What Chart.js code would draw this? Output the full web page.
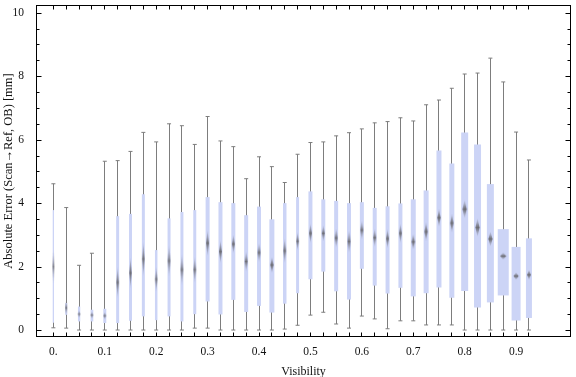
<!DOCTYPE html>
<html><head><meta charset="utf-8">
<script src="https://cdn.jsdelivr.net/npm/chart.js@4.4.0/dist/chart.umd.min.js"></script>
<style>html,body{margin:0;padding:0;background:#fff;overflow:hidden}</style>
</head><body>
<canvas id="c" width="576" height="377"></canvas>
<script>
// ---- data ----
const visibility = [0, 0.025, 0.05, 0.075, 0.1, 0.125, 0.15, 0.175, 0.2, 0.225, 0.25, 0.275, 0.3, 0.325, 0.35, 0.375, 0.4, 0.425, 0.45, 0.475, 0.5, 0.525, 0.55, 0.575, 0.6, 0.625, 0.65, 0.675, 0.7, 0.725, 0.75, 0.775, 0.8, 0.825, 0.85, 0.875, 0.9, 0.925];
const whiskerMin = [0.07, 0.06, 0.0, 0.0, 0.0, 0.0, 0.0, 0.0, 0.0, 0.0, 0.0, 0.06, 0.06, 0.0, 0.0, 0.0, 0.0, 0.0, 0.03, 0.15, 0.47, 0.56, 0.19, 0.06, 0.44, 0.35, 0.04, 0.29, 0.29, 0.16, 0.16, 0.16, 0.0, 0.0, 0.0, 0.0, 0.0, 0.0];
const quartile1  = [0.23, 0.48, 0.27, 0.27, 0.22, 0.22, 0.29, 0.43, 0.31, 0.43, 0.27, 0.5, 0.9, 0.49, 0.95, 0.57, 0.76, 0.55, 0.83, 1.16, 1.6, 1.84, 1.22, 0.96, 1.93, 1.4, 1.15, 1.33, 1.06, 1.16, 1.34, 1.02, 1.23, 0.71, 0.87, 1.09, 0.3, 0.38];
const medianVal  = [2.0, 0.7, 0.5, 0.47, 0.45, 1.5, 1.8, 2.24, 1.6, 2.18, 1.9, 1.9, 2.74, 2.47, 2.71, 2.16, 2.44, 2.05, 2.5, 2.8, 3.05, 3.05, 2.9, 2.79, 3.15, 2.91, 2.88, 3.05, 2.78, 3.1, 3.54, 3.37, 3.81, 3.23, 2.87, 2.33, 1.7, 1.74];
const quartile3  = [3.78, 0.85, 0.74, 0.64, 0.67, 3.59, 3.66, 4.28, 2.52, 3.52, 3.72, 3.78, 4.19, 4.03, 4.0, 3.62, 3.89, 3.49, 4.0, 4.19, 4.37, 4.12, 4.07, 4.0, 4.03, 3.85, 3.9, 3.99, 4.12, 4.4, 5.66, 5.25, 6.23, 5.85, 4.6, 3.18, 2.62, 2.89];
const whiskerMax = [4.61, 3.86, 2.04, 2.42, 5.32, 5.34, 5.63, 6.23, 5.93, 6.5, 6.44, 5.85, 6.73, 5.96, 5.78, 4.77, 5.46, 5.15, 4.65, 5.54, 5.91, 5.93, 6.12, 6.22, 6.34, 6.53, 6.57, 6.69, 6.59, 7.1, 7.25, 7.62, 8.07, 8.1, 8.57, 7.82, 6.24, 5.36];
const notchHalf  = [0.55, 0.25, 0.12, 0.12, 0.12, 0.5, 0.5, 0.55, 0.4, 0.5, 0.5, 0.42, 0.42, 0.36, 0.3, 0.32, 0.3, 0.26, 0.4, 0.29, 0.31, 0.26, 0.31, 0.36, 0.31, 0.29, 0.31, 0.31, 0.26, 0.31, 0.29, 0.31, 0.29, 0.29, 0.24, 0.11, 0.12, 0.16];

const xLabelValues = [0, 0.1, 0.2, 0.3, 0.4, 0.5, 0.6, 0.7, 0.8, 0.9];
const xLabels = ["0.", "0.1", "0.2", "0.3", "0.4", "0.5", "0.6", "0.7", "0.8", "0.9"];
const yTickValues = [0, 2, 4, 6, 8, 10];
const yTickLabels = ["0", "2", "4", "6", "8", "10"];
const yMinorTicks = [0, 0.5, 1, 1.5, 2, 2.5, 3, 3.5, 4, 4.5, 5, 5.5, 6, 6.5, 7, 7.5, 8, 8.5, 9, 9.5, 10];

// ---- style (sizes in px) ----
const boxWidthPx = [1.3, 2, 2.3, 2.7, 3, 3, 3, 3, 2.5, 3, 3, 3, 4, 4, 4, 4, 4, 5, 3.5, 3, 4, 4, 4, 4, 4, 4, 4, 4, 5, 5, 5, 5, 7, 7, 7, 11, 9, 6];
const BOX_COLOR = 'rgb(204,212,246)';
const WHISKER_COLOR = 'rgb(125,125,125)';
const SERIF = '"Liberation Serif", "DejaVu Serif", serif';

function makeDiamond(w, h) {
  const cw = Math.ceil(w) + 2, chh = Math.ceil(h) + 2;
  const cv = document.createElement('canvas');
  cv.width = cw; cv.height = chh;
  const g = cv.getContext('2d');
  const cx = cw / 2, cy = chh / 2;
  const grad = g.createLinearGradient(0, cy - h / 2, 0, cy + h / 2);
  grad.addColorStop(0, 'rgba(130,132,150,0.1)');
  grad.addColorStop(0.5, 'rgba(108,108,114,1)');
  grad.addColorStop(1, 'rgba(130,132,150,0.1)');
  g.fillStyle = grad;
  g.beginPath();
  g.moveTo(cx, cy - h / 2);
  g.lineTo(cx + w / 2, cy);
  g.lineTo(cx, cy + h / 2);
  g.lineTo(cx - w / 2, cy);
  g.closePath();
  g.fill();
  return cv;
}

const boxWidthPlugin = {
  id: 'boxWidth',
  afterDatasetUpdate(chart, args) {
    const ds = chart.data.datasets[args.index];
    if (ds.label === 'box') {
      args.meta.data.forEach((el, i) => { el.width = boxWidthPx[i]; });
    } else if (ds.label === 'whisker') {
      // snap 1px whisker to the pixel grid so it stays crisp
      args.meta.data.forEach((el) => { el.x = Math.round(el.x - 0.5) + 0.5; });
    }
  }
};

const framePlugin = {
  id: 'frame',
  afterDatasetsDraw(chart) {
    const {ctx, chartArea: a, scales: {x, y}} = chart;
    const L = Math.round(a.left) + 0.5, R = Math.round(a.right) - 0.5;
    const T = Math.round(a.top) + 0.5, B = Math.round(a.bottom) - 0.5;
    ctx.save();
    ctx.strokeStyle = '#000';
    ctx.lineWidth = 1;
    ctx.beginPath();
    visibility.forEach(v => {
      const px = Math.round(x.getPixelForValue(v) - 0.5) + 0.5;
      ctx.moveTo(px, B); ctx.lineTo(px, B - 4);
      ctx.moveTo(px, T); ctx.lineTo(px, T + 4);
    });
    yMinorTicks.forEach(v => {
      const py = Math.round(y.getPixelForValue(v)) + 0.5;
      const len = yTickValues.includes(v) ? 5 : 3;
      ctx.moveTo(L, py); ctx.lineTo(L + len, py);
      ctx.moveTo(R, py); ctx.lineTo(R - len, py);
    });
    ctx.stroke();
    ctx.strokeRect(L, T, R - L, B - T);
    ctx.restore();
  }
};

const capData = [];
visibility.forEach((v, i) => { capData.push({x: v, y: whiskerMax[i]}); capData.push({x: v, y: whiskerMin[i]}); });

const chart = new Chart(document.getElementById('c'), {
  type: 'bar',
  data: {
    datasets: [
      {
        label: 'median', type: 'scatter', order: 1,
        data: visibility.map((v, i) => ({x: v, y: medianVal[i]})),
        pointRadius: 3,
        pointStyle: (c) => {
          const i = c.dataIndex;
          const ys = c.chart.scales && c.chart.scales.y;
          if (i === undefined || !ys) return 'circle';
          const p1 = ys.getPixelForValue(medianVal[i] - notchHalf[i]);
          const p2 = ys.getPixelForValue(medianVal[i] + notchHalf[i]);
          const h = Math.abs(p1 - p2);
          if (!isFinite(h) || h <= 0) return 'circle';
          return makeDiamond(0.45 * boxWidthPx[i] + 1, h);
        }
      },
      {
        label: 'box', order: 2, grouped: false,
        data: visibility.map((v, i) => ({x: v, y: [quartile1[i], quartile3[i]]})),
        backgroundColor: BOX_COLOR, borderWidth: 0, barThickness: 4, inflateAmount: 0
      },
      {
        label: 'caps', type: 'scatter', order: 3,
        data: capData,
        pointStyle: 'line', pointRadius: 2, borderColor: WHISKER_COLOR, borderWidth: 1
      },
      {
        label: 'whisker', order: 4, grouped: false,
        data: visibility.map((v, i) => ({x: v, y: [whiskerMin[i], whiskerMax[i]]})),
        backgroundColor: WHISKER_COLOR, borderWidth: 0, barThickness: 1, inflateAmount: 0
      }
    ]
  },
  options: {
    responsive: false,
    animation: false,
    events: [],
    layout: {padding: {top: 4, right: 1, left: 0, bottom: 0}},
    plugins: {legend: {display: false}, tooltip: {enabled: false}},
    scales: {
      x: {
        type: 'linear', offset: false,
        min: -0.0338, max: 1.0068,
        grid: {display: false}, border: {display: false},
        afterBuildTicks: (s) => { s.ticks = xLabelValues.map(v => ({value: v})); },
        afterFit: (s) => { s.height = 40; s.paddingLeft = 0; s.paddingRight = 0; },
        ticks: {
          autoSkip: false, maxRotation: 0, padding: 0, color: '#111',
          font: {family: SERIF, size: 11.5},
          callback: (val) => {
            const k = xLabelValues.findIndex(t => Math.abs(t - val) < 1e-6);
            return k >= 0 ? xLabels[k] : '';
          }
        },
        title: {display: true, text: 'Visibility', color: '#111', padding: {top: 0, bottom: 0},
                font: {family: SERIF, size: 12, lineHeight: 0.8}}
      },
      y: {
        type: 'linear',
        min: -0.22, max: 10.245,
        grid: {display: false}, border: {display: false},
        afterBuildTicks: (s) => { s.ticks = yTickValues.map(v => ({value: v})); },
        afterFit: (s) => { s.width = 36; s.paddingTop = 0; s.paddingBottom = 0; },
        ticks: {
          autoSkip: false, padding: 4, color: '#111',
          font: {family: SERIF, size: 11.5},
          callback: (val) => {
            const k = yTickValues.findIndex(t => Math.abs(t - val) < 1e-6);
            return k >= 0 ? yTickLabels[k] : '';
          }
        },
        title: {display: true, text: 'Absolute Error (Scan\u2192Ref, OB) [mm]', color: '#111', padding: {top: 1, bottom: 0},
                font: {family: SERIF, size: 12.5}}
      }
    }
  },
  plugins: [boxWidthPlugin, framePlugin]
});
chart.update();
</script>
</body></html>
